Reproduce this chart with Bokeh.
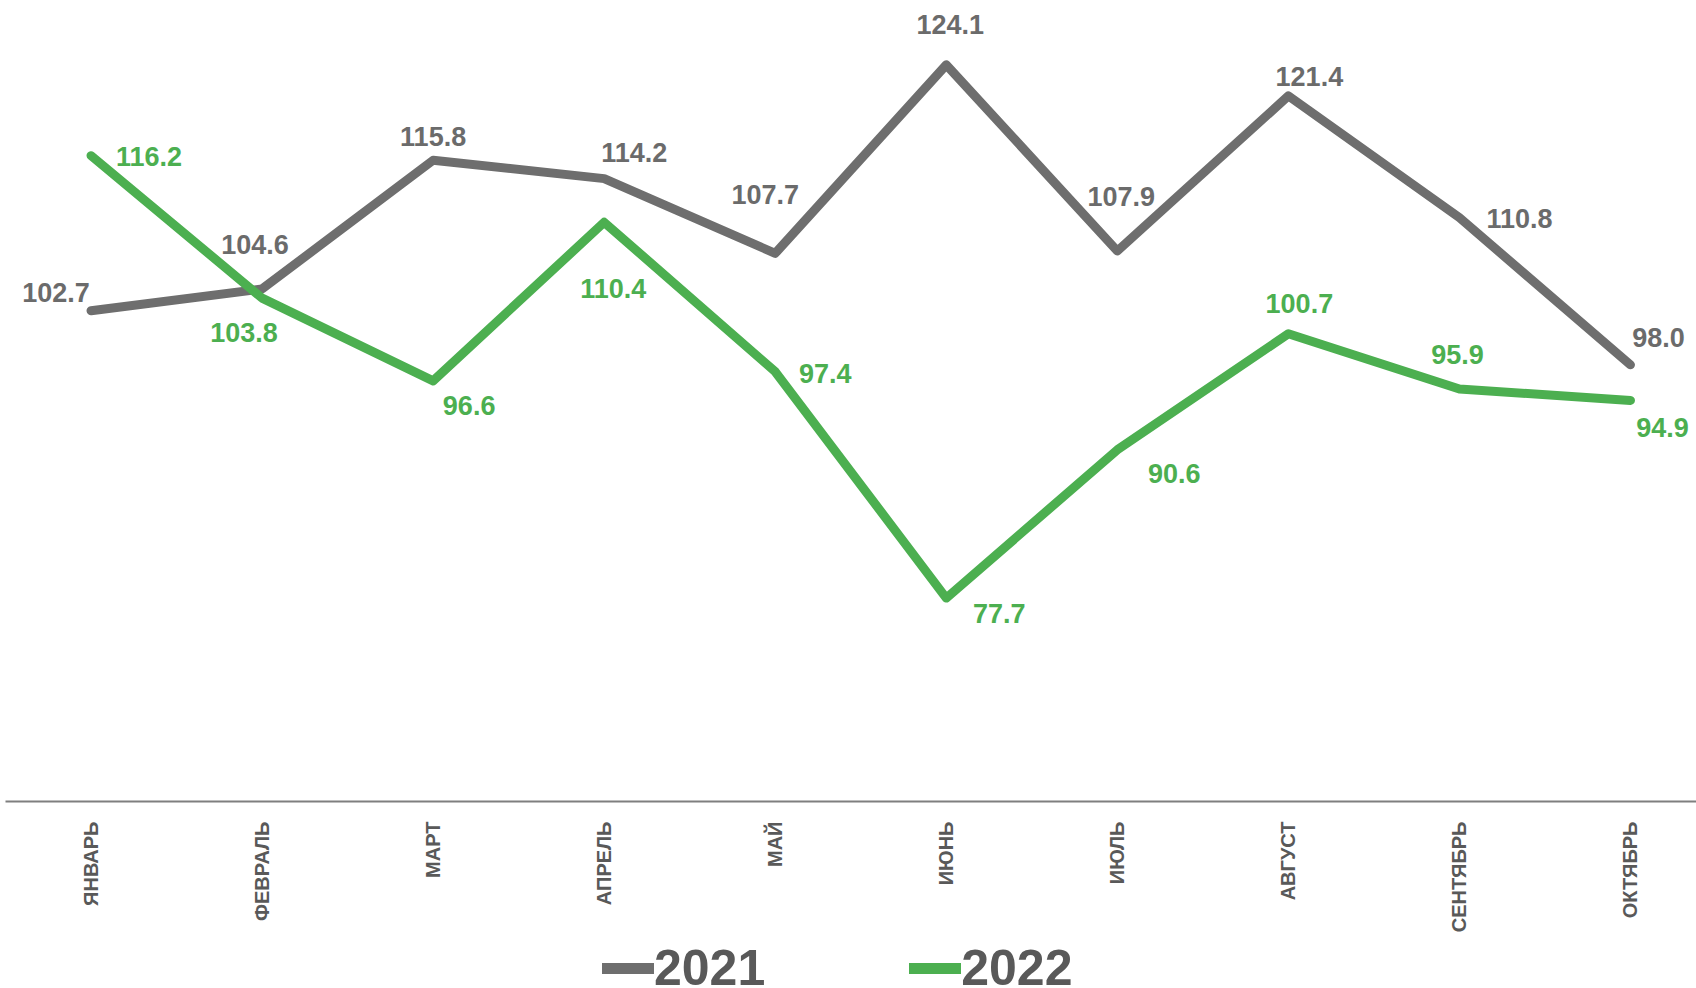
import math
from bokeh.plotting import figure
from bokeh.layouts import column
from bokeh.models import Range1d, FixedTicker, Legend, LegendItem, ColumnDataSource
from bokeh.core.properties import value
from bokeh.embed import file_html
from bokeh.resources import INLINE

months = ["ЯНВАРЬ", "ФЕВРАЛЬ", "МАРТ", "АПРЕЛЬ", "МАЙ", "ИЮНЬ", "ИЮЛЬ", "АВГУСТ", "СЕНТЯБРЬ", "ОКТЯБРЬ"]
v2021 = [102.7, 104.6, 115.8, 114.2, 107.7, 124.1, 107.9, 121.4, 110.8, 98.0]
v2022 = [116.2, 103.8, 96.6, 110.4, 97.4, 77.7, 90.6, 100.7, 95.9, 94.9]
series_names = ["2021", "2022"]

# label offsets in screen pixels (right, down) relative to each point
dx2021 = [-35, -7, 0, 30, -10, 4, 4, 21, 60, 28]
dy2021 = [-18, -44, -24, -26, -59, -40, -55, -19, 1, -27]
dx2022 = [58, -18, 36, 9, 50, 53, 57, 11, -2, 32]
dy2022 = [1, 34, 25, 66, 2, 15, 24, -30, -34, 27]

GRAY = "#6e6e6e"
GREEN = "#4caf50"
FONT = "Liberation Sans"

xs = list(range(len(months)))

p = figure(frame_width=1691, frame_height=801, output_backend="svg", toolbar_location=None,
           x_range=Range1d(-0.5, 9.386), y_range=Range1d(60, 129.7))
p.min_border_left = 5
p.min_border_right = 0
p.min_border_top = 0
p.min_border_bottom = 133
p.outline_line_color = None
p.background_fill_color = "white"
p.border_fill_color = "white"
p.xgrid.visible = False
p.ygrid.visible = False
p.yaxis.visible = False

ax = p.xaxis[0]
ax.ticker = FixedTicker(ticks=xs)
ax.major_label_overrides = {i: m for i, m in enumerate(months)}
ax.major_label_orientation = math.pi / 2
ax.major_label_text_font = FONT
ax.major_label_text_font_style = "bold"
ax.major_label_text_font_size = "20px"
ax.major_label_text_color = "#595959"
ax.major_label_standoff = 14
ax.major_tick_line_color = None
ax.minor_tick_line_color = None
ax.axis_line_color = "#7f7f7f"
ax.axis_line_width = 2

s1 = ColumnDataSource(dict(x=xs, y=v2021, t=[f"{v:.1f}" for v in v2021], dx=dx2021, dy=dy2021))
s2 = ColumnDataSource(dict(x=xs, y=v2022, t=[f"{v:.1f}" for v in v2022], dx=dx2022, dy=dy2022))

line_style = dict(line_width=9, line_cap="round", line_join="round")
p.line("x", "y", source=s1, line_color=GRAY, **line_style)
p.line("x", "y", source=s2, line_color=GREEN, **line_style)

p.text("x", "y", text="t", source=s1, x_offset="dx", y_offset="dy",
       text_font=value(FONT), text_font_style="bold", text_font_size="27px",
       text_color="#6b6b6b", text_align="center", text_baseline="middle")
p.text("x", "y", text="t", source=s2, x_offset="dx", y_offset="dy",
       text_font=value(FONT), text_font_style="bold", text_font_size="27px",
       text_color=GREEN, text_align="center", text_baseline="middle")

# legend strip below the chart (its proxy lines lie outside the visible range)
pl = figure(width=1696, height=54, output_backend="svg", toolbar_location=None,
            x_range=Range1d(0, 1), y_range=Range1d(0, 1))
pl.min_border_left = 0
pl.min_border_right = 0
pl.min_border_top = 0
pl.min_border_bottom = 0
pl.outline_line_color = None
pl.axis.visible = False
pl.grid.visible = False
pl.border_fill_color = "white"
leg_style = dict(line_width=11, line_cap="round")
lr1 = pl.line(x=[-10, -9], y=[-10, -10], line_color=GRAY, **leg_style)
lr2 = pl.line(x=[-10, -9], y=[-10, -10], line_color=GREEN, **leg_style)

legend = Legend(items=[LegendItem(label=series_names[0], renderers=[lr1]),
                       LegendItem(label=series_names[1], renderers=[lr2])],
                orientation="horizontal", location=(597, -8))
legend.label_text_font = FONT
legend.label_text_font_style = "bold"
legend.label_text_font_size = "50px"
legend.label_text_color = "#595959"
legend.label_standoff = 0
legend.label_height = 30
legend.glyph_width = 52
legend.glyph_height = 30
legend.spacing = 144
legend.padding = 0
legend.margin = 0
legend.border_line_color = None
legend.background_fill_alpha = 0
pl.add_layout(legend, "center")

layout = column(p, pl, spacing=0)
open("out.html", "w").write(file_html(layout, INLINE))
